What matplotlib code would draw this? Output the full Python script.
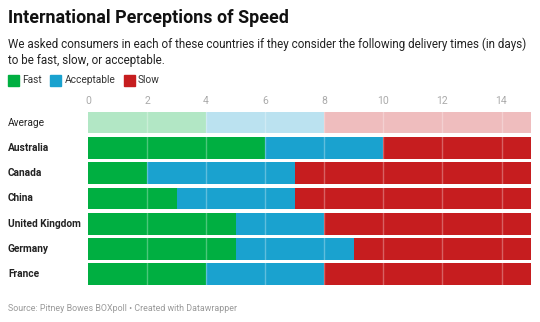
import matplotlib.pyplot as plt
import matplotlib.transforms as mtransforms
import numpy as np

plt.rcParams['font.family'] = ['Roboto', 'DejaVu Sans']

countries = ['Average', 'Australia', 'Canada', 'China', 'United Kingdom', 'Germany', 'France']
fast_upto = [4, 6, 2, 3, 5, 5, 4]          # days still considered fast
acceptable_upto = [8, 10, 7, 7, 8, 9, 8]   # days still considered acceptable
max_days = 15
xticks = [0, 2, 4, 6, 8, 10, 12, 14]

colors = {'Fast': '#00af41', 'Acceptable': '#1aa2cf', 'Slow': '#c61d1f'}
light = {'Fast': '#b2e7c5', 'Acceptable': '#bbe2f0', 'Slow': '#efbdbe'}


def main():
    fig = plt.figure(figsize=(5.4, 3.22), dpi=100)
    ax = fig.add_axes([0.163, 0.1087, 0.8204, 0.550])

    fast = np.array(fast_upto)
    acc = np.array(acceptable_upto)
    y = np.arange(len(countries))

    for i in y:
        pal = light if countries[i] == 'Average' else colors
        ax.barh(i, fast[i], left=0, height=0.86, color=pal['Fast'], lw=0)
        ax.barh(i, acc[i] - fast[i], left=fast[i], height=0.86, color=pal['Acceptable'], lw=0)
        ax.barh(i, max_days - acc[i], left=acc[i], height=0.86, color=pal['Slow'], lw=0)

    # faint gridlines on top of the bars
    for x in xticks[1:]:
        ax.axvline(x, color='white', alpha=0.3, lw=1, zorder=3)

    ax.set_xlim(0, max_days)
    ax.set_ylim(len(countries) - 0.5, -0.5)
    ax.xaxis.tick_top()
    ax.set_xticks(xticks)
    ax.tick_params(axis='x', length=0, pad=3, labelsize=7.5, labelcolor='#aaaaaa')
    ax.set_yticks([])
    for s in ax.spines.values():
        s.set_visible(False)

    trans = mtransforms.blended_transform_factory(fig.transFigure, ax.transData)
    for i, name in enumerate(countries):
        ax.text(8 / 540, i, name, transform=trans, ha='left', va='center',
                fontsize=7.3, color='#222222',
                fontweight='normal' if name == 'Average' else 'bold')

    fig.text(8 / 540, 1 - 18 / 322, 'International Perceptions of Speed',
             fontsize=12.9, fontweight='bold', color='#111111', va='center')
    fig.text(8 / 540, 1 - 52.5 / 322,
             'We asked consumers in each of these countries if they consider the following delivery times (in days)\n'
             'to be fast, slow, or acceptable.',
             fontsize=8.35, color='#222222', va='center', linespacing=1.35)

    # legend
    lx = 8.3
    for label in ['Fast', 'Acceptable', 'Slow']:
        fig.patches.append(plt.Rectangle((lx / 540, 1 - 85.5 / 322), 11 / 540, 11 / 322,
                                         transform=fig.transFigure, color=colors[label]))
        t = fig.text((lx + 14) / 540, 1 - 80 / 322, label, fontsize=7.3,
                     color='#333333', va='center')
        fig.canvas.draw()
        bb = t.get_window_extent()
        lx = bb.x1 + 8.5

    fig.text(8 / 540, 1 - 308.5 / 322, 'Source: Pitney Bowes BOXpoll \u2022 Created with Datawrapper',
             fontsize=6.4, color='#999999', va='center')

    fig.savefig('out.png', dpi=100)


if __name__ == '__main__':
    main()
